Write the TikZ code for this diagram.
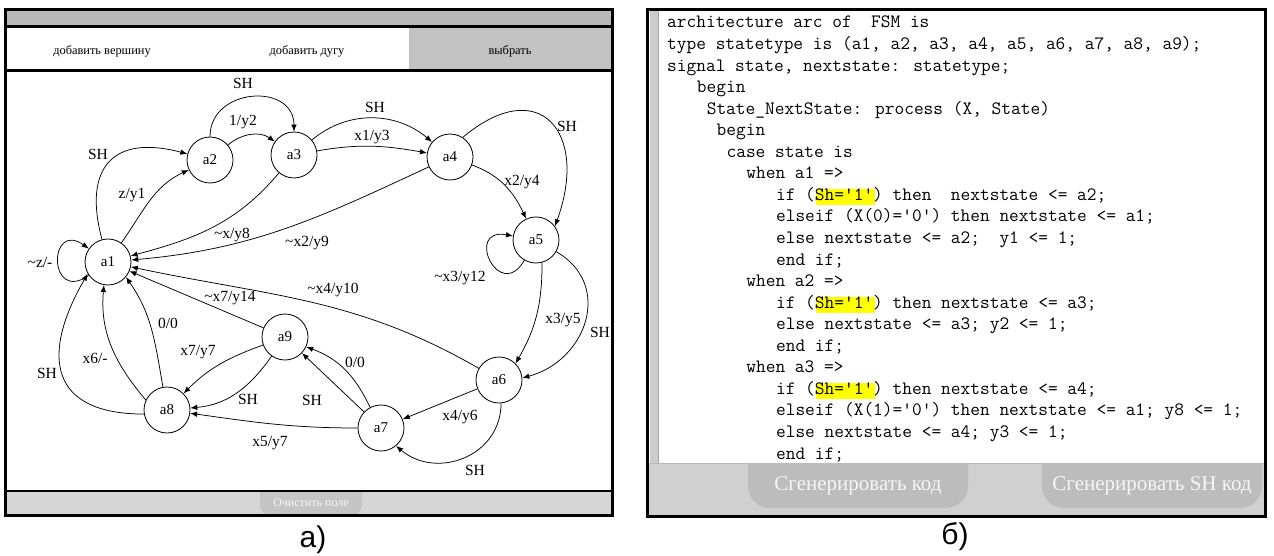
\documentclass[tikz,border=0pt]{standalone}
\usepackage{fontspec}
\setmainfont{Liberation Serif}
\newfontfamily\capfont{Liberation Sans}
\usetikzlibrary{arrows.meta}
\definecolor{barTop}{RGB}{184,184,184}
\definecolor{selBtn}{RGB}{194,194,194}
\definecolor{botBar}{RGB}{214,214,214}
\definecolor{clrBtn}{RGB}{197,197,197}
\definecolor{codeBar}{RGB}{208,208,208}
\definecolor{genBtn}{RGB}{188,188,188}
\definecolor{stripGray}{RGB}{204,204,204}
\definecolor{btnText}{RGB}{246,246,246}
\definecolor{hlYellow}{RGB}{255,255,0}
\newcommand\tld{\textasciitilde}
\tikzset{
  st/.style={circle,draw,line width=0.8pt,minimum size=46pt,inner sep=0pt,
             font=\fontsize{15}{18}\selectfont},
  tr/.style={line width=0.75pt,-{Latex[length=7pt,width=5.5pt]}},
  lbl/.style={inner sep=0pt,font=\fontsize{15.5}{18}\selectfont},
  vhdl/.style={anchor=base west,inner sep=0pt,font=\fontsize{18.86}{21}\ttfamily},
  menu/.style={inner sep=0pt,font=\fontsize{12.4}{14}\selectfont},
  gbtn/.style={inner sep=0pt,text=btnText,font=\fontsize{21}{24}\selectfont},
  pframe/.style={draw=black,line width=3pt},
}
\begin{document}
\begin{tikzpicture}[x=1pt,y=-1pt]
  \useasboundingbox (0,0) rectangle (1274,556);
  \fill[white] (0,0) rectangle (1274,556);

  % editor panel
  \fill[barTop] (5,10) rectangle (612,27);
  \fill[selBtn] (409,27) rectangle (612,71);
  \fill[botBar] (5,491) rectangle (612,515);
  \begin{scope}
    \clip (260,491) rectangle (362,515);
    \fill[clrBtn,rounded corners=10pt] (260,470) rectangle (362,515);
  \end{scope}
  \draw[line width=3pt] (5,27) -- (612,27) (5,71) -- (612,71);
  \draw[line width=2.5pt] (5,491) -- (612,491);
  \draw[pframe] (5,10) rectangle (612,515);
  \node[menu] (addv) at (102,51) {добавить вершину};
  \node[menu] (adde) at (307,51) {добавить дугу};
  \node[menu] (pick) at (510,51) {выбрать};
  \node[menu,text=btnText,font=\fontsize{12}{14}\selectfont] (clr) at (311,503) {Очистить поле};

  \node[st] (a1) at (108,262) {a1};
  \node[st] (a2) at (210,160) {a2};
  \node[st] (a3) at (294,155) {a3};
  \node[st] (a4) at (450,157) {a4};
  \node[st] (a5) at (536,240) {a5};
  \node[st] (a6) at (499,380) {a6};
  \node[st] (a7) at (381,428) {a7};
  \node[st] (a8) at (167,410) {a8};
  \node[st] (a9) at (285,337) {a9};

  \draw[tr] (a1) to[out=215,in=145,distance=50pt] (a1);
  \draw[tr] (a1) to[out=55,in=205] (a2);
  \draw[tr] (a1) to[out=105,in=165,looseness=1.6] (a2);
  \draw[tr] (a2) to[out=40,in=145] (a3);
  \draw[tr] (a2) to[out=90,in=90,looseness=1.5] (a3);
  \draw[tr] (a3) to[out=10,in=170] (a4);
  \draw[tr] (a3) to[out=40,in=140] (a4);
  \draw[tr] (a4) to[out=-20,in=115] (a5);
  \draw[tr] (a4.57) to[out=40,in=70,looseness=2] (a5.36);
  \draw[tr] (a3) to[out=230,in=15] (a1);
  \draw[tr] (a4) to[out=205,in=5] (a1);
  \draw[tr] (a5) to[out=240,in=170,distance=50pt] (a5);
  \draw[tr] (a6) to[out=150,in=-12] (a1);
  \draw[tr] (a9) -- (a1);
  \draw[tr] (a5.-75) to[out=-90,in=60] (a6.45);
  \draw[tr] (a5.-30) to[out=-30,in=15,looseness=1.3] (a6.5);
  \draw[tr] (a6) -- (a7);
  \draw[tr] (a6.-85) to[out=-90,in=-40,looseness=1.2] (a7.-50);
  \draw[tr] (a7.118) to[out=115,in=-20] (a9.-25);
  \draw[tr] (a7) -- (a9);
  \draw[tr] (a7) to[out=180,in=-8] (a8);
  \draw[tr] (a9) to[out=200,in=45] (a8);
  \draw[tr] (a9) to[out=235,in=5] (a8);
  \draw[tr] (a8) to[out=100,in=-55] (a1.-40);
  \draw[tr] (a8.155) to[out=130,in=-95] (a1.-100);
  \draw[tr] (a8.190) to[out=180,in=-120,looseness=1.6] (a1.-150);

  \node[lbl] (l11) at (40,262) {\tld z/-};
  \node[lbl] (l12s) at (98,154) {SH};
  \node[lbl] (l12) at (132,195) {z/y1};
  \node[lbl] (l23) at (243,122) {1/y2};
  \node[lbl] (l23s) at (243,83) {SH};
  \node[lbl] (l34) at (372,137) {x1/y3};
  \node[lbl] (l34s) at (375,107) {SH};
  \node[lbl] (l45) at (522,182) {x2/y4};
  \node[lbl] (l45s) at (567,126) {SH};
  \node[lbl] (l31) at (232,235) {\tld x/y8};
  \node[lbl] (l41) at (307,243) {\tld x2/y9};
  \node[lbl] (l55) at (460,278) {\tld x3/y12};
  \node[lbl] (l61) at (333,290) {\tld x4/y10};
  \node[lbl] (l91) at (230,298) {\tld x7/y14};
  \node[lbl] (l56) at (563,320) {x3/y5};
  \node[lbl] (l56s) at (600,332) {SH};
  \node[lbl] (l81) at (168,323) {0/0};
  \node[lbl] (l81x) at (95,358) {x6/-};
  \node[lbl] (l81s) at (47,373) {SH};
  \node[lbl] (l98) at (198,352) {x7/y7};
  \node[lbl] (l98s) at (248,399) {SH};
  \node[lbl] (l79) at (355,362) {0/0};
  \node[lbl] (l79s) at (312,400) {SH};
  \node[lbl] (l67) at (460,417) {x4/y6};
  \node[lbl] (l78) at (270,443) {x5/y7};
  \node[lbl] (l67s) at (475,470) {SH};

  % code panel
  \fill[codeBar] (647,463) rectangle (1265,516);
  \fill[stripGray] (650,10) rectangle (658,463);
  \draw[gray!70,line width=0.6pt] (658,10) -- (658,463);
  \draw[gray!55,line width=0.8pt] (650,463) -- (1265,463);
  \begin{scope}
    \clip (647,463) rectangle (1265,516);
    \fill[genBtn,rounded corners=22pt] (748,430) rectangle (968,508);
    \fill[genBtn,rounded corners=22pt] (1042,430) rectangle (1262,508);
  \end{scope}
  \draw[pframe] (647,10) rectangle (1265,516);
  \node[gbtn] (gen) at (858,486) {Сгенерировать код};
  \node[gbtn] (gensh) at (1152,486) {Сгенерировать SH код};

  \fill[hlYellow] (815.5,189.4) rectangle (874.9,205.4);
  \fill[hlYellow] (815.5,297.2) rectangle (874.9,313.2);
  \fill[hlYellow] (815.5,383.4) rectangle (874.9,399.4);

  \node[vhdl] (c1) at (667,28) {architecture arc of\ \ FSM is};
  \node[vhdl] (c2) at (667,49.55) {type statetype is (a1, a2, a3, a4, a5, a6, a7, a8, a9);};
  \node[vhdl] (c3) at (667,71.1) {signal state, nextstate: statetype;};
  \node[vhdl] (c4) at (696.7,92.65) {begin};
  \node[vhdl] (c5) at (706.6,114.2) {State\_NextState: process (X, State)};
  \node[vhdl] (c6) at (716.5,135.75) {begin};
  \node[vhdl] (c7) at (726.4,157.3) {case state is};
  \node[vhdl] (c8) at (746.2,178.85) {when a1 =>};
  \node[vhdl] (c9) at (775.9,200.4) {if (Sh='1') then\ \ nextstate <= a2;};
  \node[vhdl] (c10) at (775.9,221.95) {elseif (X(0)='0') then nextstate <= a1;};
  \node[vhdl] (c11) at (775.9,243.5) {else nextstate <= a2;\ \ y1 <= 1;};
  \node[vhdl] (c12) at (775.9,265.05) {end if;};
  \node[vhdl] (c13) at (746.2,286.6) {when a2 =>};
  \node[vhdl] (c14) at (775.9,308.15) {if (Sh='1') then nextstate <= a3;};
  \node[vhdl] (c15) at (775.9,329.7) {else nextstate <= a3; y2 <= 1;};
  \node[vhdl] (c16) at (775.9,351.25) {end if;};
  \node[vhdl] (c17) at (746.2,372.8) {when a3 =>};
  \node[vhdl] (c18) at (775.9,394.35) {if (Sh='1') then nextstate <= a4;};
  \node[vhdl] (c19) at (775.9,415.9) {elseif (X(1)='0') then nextstate <= a1; y8 <= 1;};
  \node[vhdl] (c20) at (775.9,437.45) {else nextstate <= a4; y3 <= 1;};
  \node[vhdl] (c21) at (775.9,459) {end if;};

  \node[font=\capfont\fontsize{30}{34}\selectfont,inner sep=0pt] (capA) at (313,540) {а)};
  \node[font=\capfont\fontsize{30}{34}\selectfont,inner sep=0pt] (capB) at (955,537) {б)};
\end{tikzpicture}
\end{document}
